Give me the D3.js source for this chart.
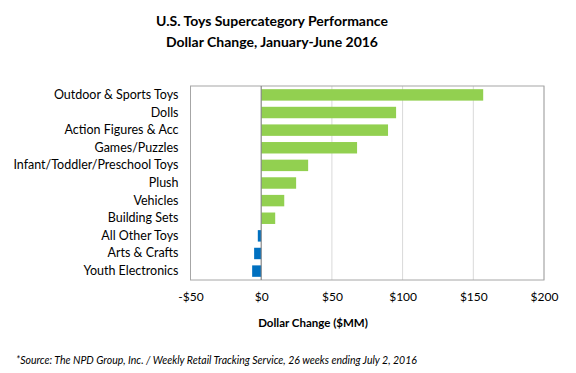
<!DOCTYPE html>
<html lang="en">
<head>
<meta charset="UTF-8">
<title>U.S. Toys Supercategory Performance</title>
<script src="https://cdn.jsdelivr.net/npm/d3@7"></script>
<style>
  body { margin: 0; background: #fff; }
  text { font-family: Lato, "Open Sans", sans-serif; fill: #000; }
</style>
</head>
<body>
<script>
// categories top to bottom
var categories = ["Outdoor & Sports Toys", "Dolls", "Action Figures & Acc", "Games/Puzzles",
  "Infant/Toddler/Preschool Toys", "Plush", "Vehicles", "Building Sets",
  "All Other Toys", "Arts & Crafts", "Youth Electronics"];
var values = [157, 95.4, 89.7, 67.8, 33.2, 24.7, 16.3, 9.9, -2.4, -5, -6.4];
var ticks = [-50, 0, 50, 100, 150, 200];

var W = 576, H = 373;
var svg = d3.select("body").append("svg").attr("width", W).attr("height", H);

var plot = {left: 190.5, right: 544, top: 86, bottom: 280};

var x = d3.scaleLinear().domain([-50, 200]).range([plot.left, plot.right]);
var y = d3.scaleBand().domain(categories).range([plot.top, plot.bottom]).paddingInner(0.35).paddingOuter(0.18);

// titel
svg.append("text").attr("x", 272).attr("y", 26).attr("text-anchor", "middle")
  .style("font-weight", "bold").style("font-size", "14px").text("U.S. Toys Supercategory Performance");
svg.append("text").attr("x", 272).attr("y", 47).attr("text-anchor", "middle")
  .style("font-weight", "bold").style("font-size", "14px").text("Dollar Change, January-June 2016");

// gridlines
svg.append("g").selectAll("line").data(ticks).enter().append("line")
  .attr("x1", function (d) { return x(d); }).attr("x2", function (d) { return x(d); })
  .attr("y1", plot.top).attr("y2", plot.bottom)
  .attr("stroke", "#d9d9d9").attr("stroke-width", 1);

// plot border
svg.append("rect").attr("x", plot.left).attr("y", plot.top)
  .attr("width", plot.right - plot.left).attr("height", plot.bottom - plot.top)
  .attr("fill", "none").attr("stroke", "#a6a6a6").attr("stroke-width", 1);

// bars
svg.append("g").selectAll("rect").data(values).enter().append("rect")
  .attr("x", function (d) { return x(Math.min(0, d)); })
  .attr("y", function (d, i) { return y(categories[i]); })
  .attr("width", function (d) { return Math.abs(x(d) - x(0)); })
  .attr("height", y.bandwidth())
  .attr("fill", function (d) { return d < 0 ? "#0070c0" : "#92d050"; });

// zero line
svg.append("line").attr("x1", x(0)).attr("x2", x(0)).attr("y1", plot.top).attr("y2", plot.bottom)
  .attr("stroke", "#808080").attr("stroke-width", 1);

// category axis
var axisY = d3.axisLeft(y).tickSize(0).tickPadding(12);
var gy = svg.append("g").attr("transform", "translate(" + plot.left + ",0)").call(axisY);
gy.select(".domain").remove();
gy.selectAll("text").style("font-size", "12.5px").style("font-family", "Lato, sans-serif");

// value axis
var axisX = d3.axisBottom(x).tickValues(ticks).tickSize(0).tickPadding(12)
  .tickFormat(function (d) { return (d < 0 ? "-$" : "$") + Math.abs(d); });
var gx = svg.append("g").attr("transform", "translate(0," + plot.bottom + ")").call(axisX);
gx.select(".domain").remove();
gx.selectAll("text").style("font-size", "12px").style("font-family", "Lato, sans-serif");

svg.append("text").attr("x", 313).attr("y", 327).attr("text-anchor", "middle")
  .style("font-weight", "bold").style("font-size", "11.5px").text("Dollar Change ($MM)");

svg.append("text").attr("x", 16).attr("y", 364)
  .style("font-style", "italic").style("font-size", "10.5px")
  .text("*Source: The NPD Group, Inc. / Weekly Retail Tracking Service, 26 weeks ending July 2, 2016");
</script>
</body>
</html>
